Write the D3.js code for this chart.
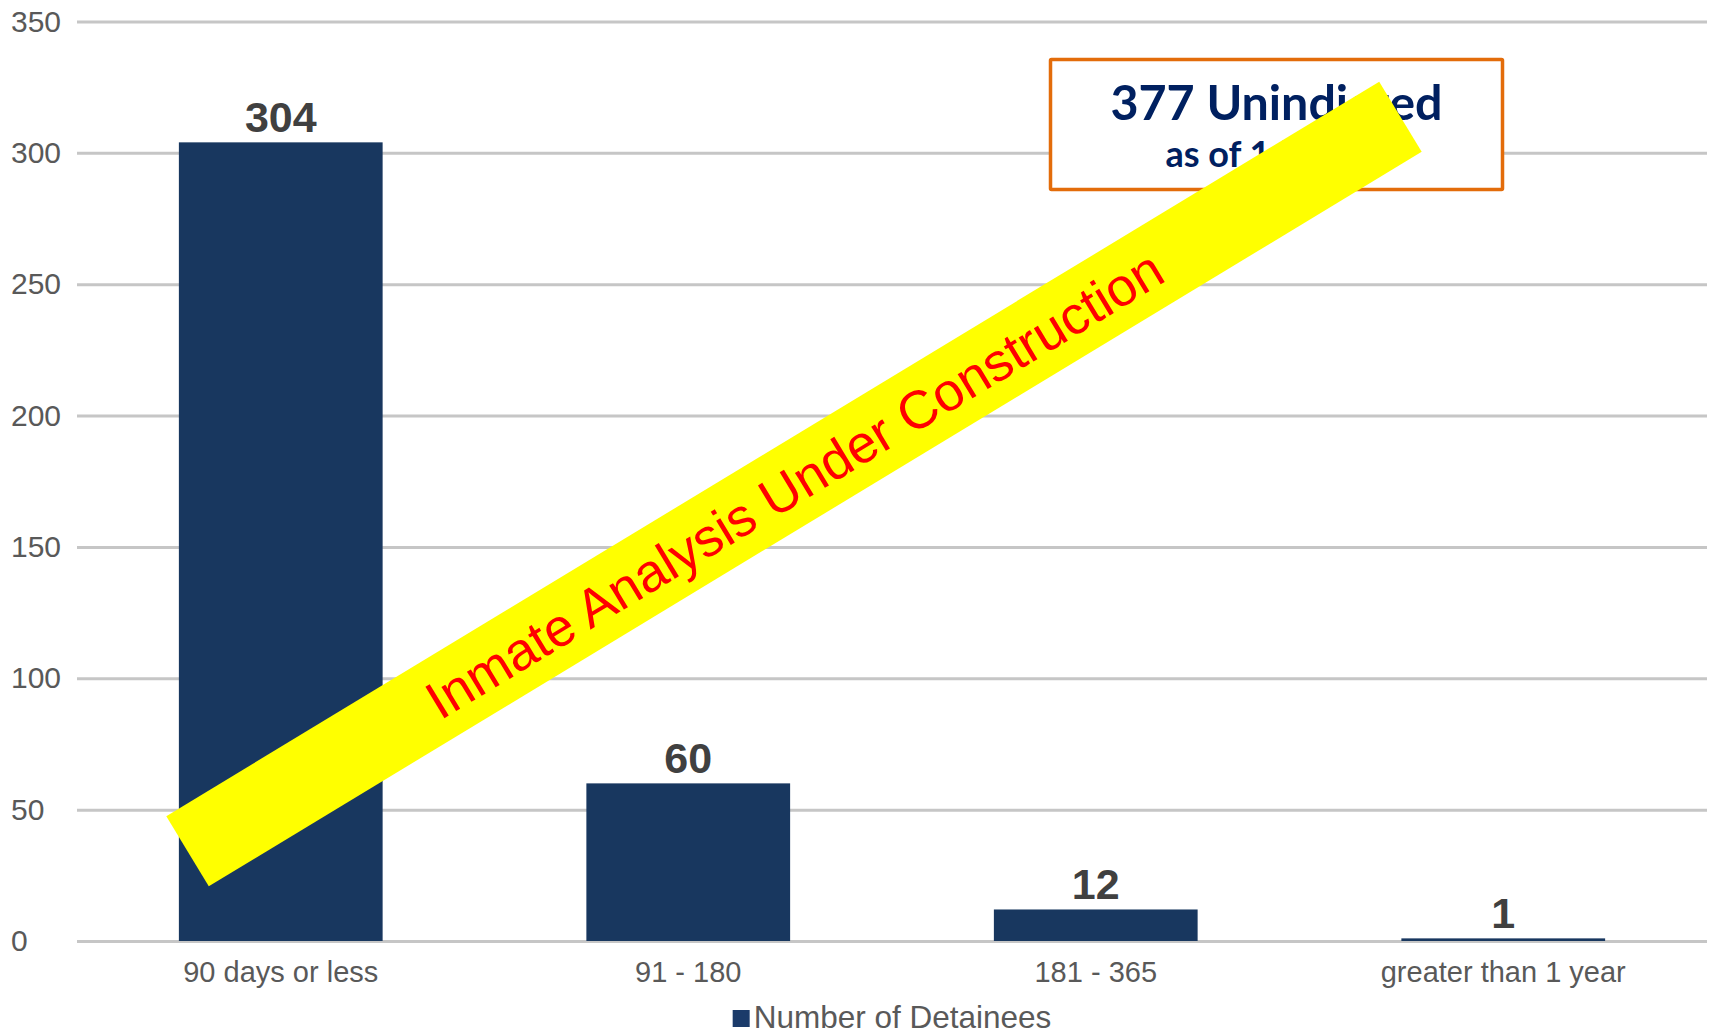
<!DOCTYPE html>
<html>
<head>
<meta charset="utf-8">
<script src="https://cdn.jsdelivr.net/npm/d3@7"></script>
<style>
  html, body { margin: 0; padding: 0; background: #ffffff; }
  svg { display: block; }
</style>
</head>
<body>
<svg id="chart" width="1712" height="1034"></svg>
<script>
// ---- data ----
const categories = ["90 days or less", "91 - 180", "181 - 365", "greater than 1 year"];
const values = [304, 60, 12, 1];
const yTicks = [0, 50, 100, 150, 200, 250, 300, 350];
const seriesName = "Number of Detainees";
const boxTitle = "377 Unindicted";
const boxSub = "as of 1/11/19";
const bannerText = "Inmate Analysis Under Construction";

// ---- layout ----
const W = 1712, H = 1034;
const plot = { left: 77, right: 1707, top: 21.5, bottom: 941 };
const axisFont = "'Liberation Sans', Arial, sans-serif";
const textGray = "#595959";
const barColor = "#18375f";

const svg = d3.select("#chart");

const x = d3.scaleBand()
  .domain(categories)
  .range([plot.left, plot.right])
  .paddingInner(0.5)
  .paddingOuter(0.25);

const y = d3.scaleLinear()
  .domain([0, 350])
  .range([plot.bottom, plot.top]);

// gridlines + y labels (labels left-aligned near the page edge)
const yAxis = svg.append("g")
  .attr("transform", `translate(${plot.left},0)`)
  .call(d3.axisLeft(y).tickValues(yTicks).tickSize(-(plot.right - plot.left)).tickPadding(15));
yAxis.select(".domain").remove();
yAxis.selectAll(".tick line").attr("stroke", "#c6c6c6").attr("stroke-width", 3);
yAxis.selectAll(".tick text")
  .attr("x", 11 - plot.left)
  .attr("text-anchor", "start")
  .attr("fill", textGray)
  .style("font-family", axisFont)
  .style("font-size", "30px");

// x labels
const xAxis = svg.append("g")
  .attr("transform", `translate(0,${plot.bottom})`)
  .call(d3.axisBottom(x).tickSize(0).tickPadding(20));
xAxis.select(".domain").remove();
xAxis.selectAll(".tick text")
  .attr("fill", textGray)
  .style("font-family", axisFont)
  .style("font-size", "29px");

// bars
const data = categories.map((c, i) => ({ c, v: values[i] }));
svg.append("g").selectAll("rect")
  .data(data)
  .join("rect")
  .attr("x", d => x(d.c))
  .attr("y", d => y(d.v))
  .attr("width", x.bandwidth())
  .attr("height", d => y(0) - y(d.v))
  .attr("fill", barColor);

// value labels
svg.append("g").selectAll("text")
  .data(data)
  .join("text")
  .attr("x", d => x(d.c) + x.bandwidth() / 2)
  .attr("y", d => y(d.v) - 10.5)
  .attr("text-anchor", "middle")
  .attr("fill", "#404040")
  .style("font-family", axisFont)
  .style("font-weight", "bold")
  .style("font-size", "43px")
  .text(d => d.v);

// legend
const legend = svg.append("g");
const legendText = legend.append("text")
  .attr("y", 1028)
  .attr("fill", textGray)
  .style("font-family", axisFont)
  .style("font-size", "31.5px")
  .text(seriesName);
const lw = legendText.node().getComputedTextLength();
const sq = 17, gap = 4;
const totalW = sq + gap + lw;
const lx = (plot.left + plot.right) / 2 - totalW / 2;
legend.append("rect")
  .attr("x", lx).attr("y", 1010)
  .attr("width", sq).attr("height", sq)
  .attr("fill", "#1b3b6a");
legendText.attr("x", lx + sq + gap);

// annotation box
const box = { x: 1050.5, y: 59.5, w: 452, h: 130 };
const ann = svg.append("g");
ann.append("rect")
  .attr("x", box.x).attr("y", box.y)
  .attr("width", box.w).attr("height", box.h)
  .attr("fill", "#ffffff")
  .attr("stroke", "#e36c0a")
  .attr("stroke-width", 3.5)
  .attr("rx", 1);
const cx = box.x + box.w / 2;
const t1 = ann.append("text")
  .attr("x", cx).attr("y", 120)
  .attr("text-anchor", "middle")
  .attr("fill", "#002060")
  .style("font-family", "Lato, 'Open Sans', sans-serif")
  .style("font-weight", "bold")
  .style("font-size", "50px")
  .text(boxTitle);
// fit to observed width
const w1 = t1.node().getComputedTextLength();
t1.style("font-size", (50 * 332 / w1).toFixed(1) + "px");
ann.append("text")
  .attr("x", cx).attr("y", 167)
  .attr("text-anchor", "middle")
  .attr("fill", "#002060")
  .style("font-family", "Lato, 'Open Sans', sans-serif")
  .style("font-weight", "bold")
  .style("font-size", "36px")
  .text(boxSub);

// "under construction" banner
const banner = svg.append("g")
  .attr("transform", "translate(794,484) rotate(-31.2)");
banner.append("rect")
  .attr("x", -709).attr("y", -41)
  .attr("width", 1418).attr("height", 82)
  .attr("fill", "#ffff00");
banner.append("text")
  .attr("x", 0).attr("y", 0)
  .attr("dy", "0.36em")
  .attr("text-anchor", "middle")
  .attr("fill", "#ff0000")
  .style("font-family", axisFont)
  .style("font-size", "53.5px")
  .text(bannerText);
</script>
</body>
</html>
